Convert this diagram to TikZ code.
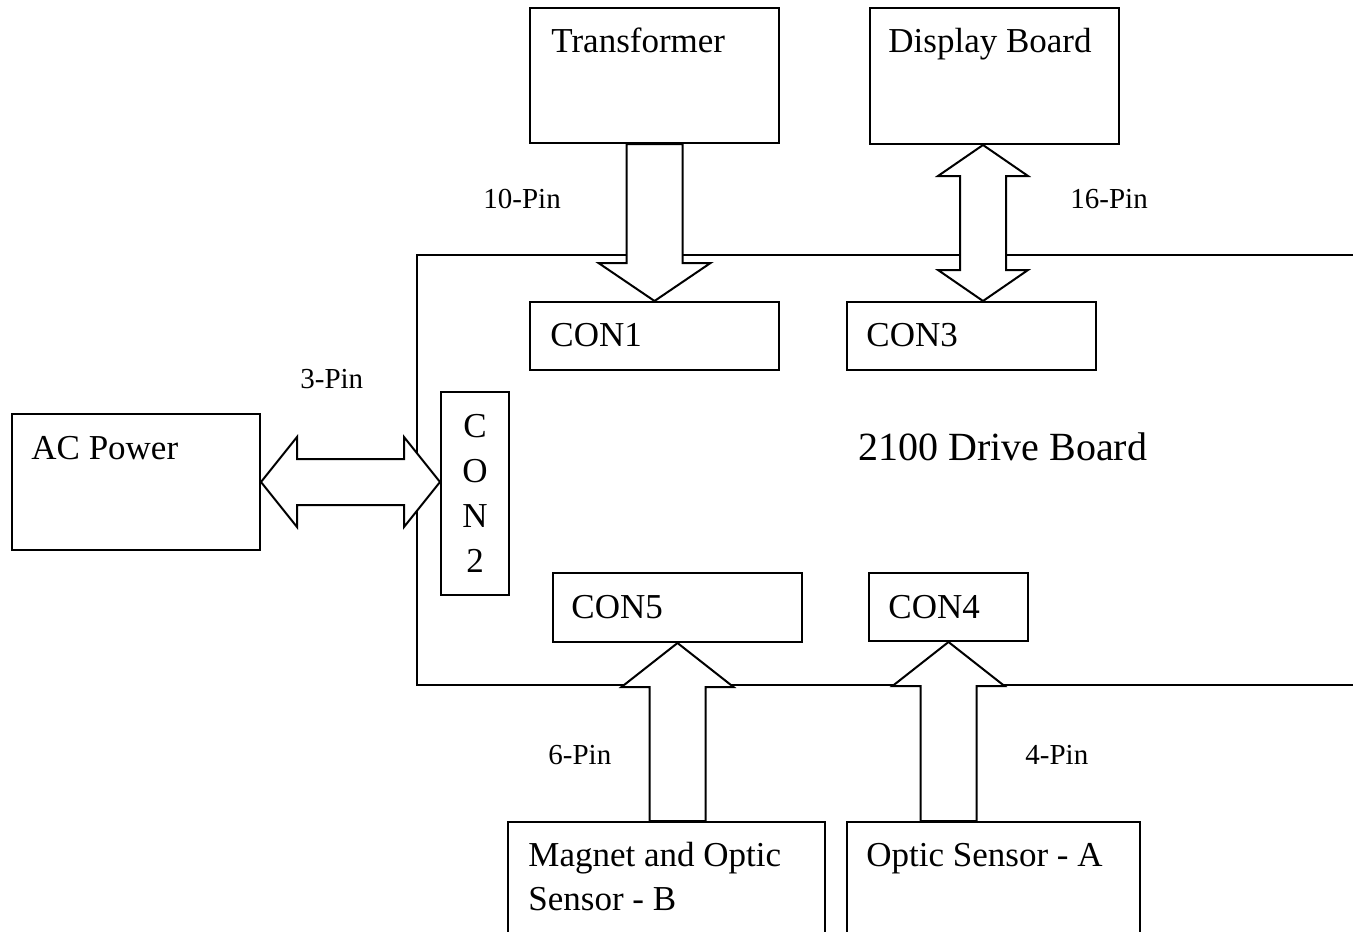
\documentclass[tikz,border=0pt]{standalone}
\usepackage{fontspec}
\setmainfont{Liberation Serif}
\usetikzlibrary{calc}

\tikzset{
  box/.style={draw, line width=1pt, anchor=north west, inner sep=0pt},
  boxtext/.style={font=\fontsize{17.5}{22.5}\selectfont, anchor=base west, inner sep=0pt},
  pintext/.style={font=\fontsize{14.5}{17}\selectfont, anchor=base west, inner sep=0pt},
  onearrow/.style n args={3}{draw, fill=white, line width=1pt,
    to path={-- ($(\tikztostart)!#1!90:(\tikztotarget)$)
      -- ($($(\tikztotarget)!#3!(\tikztostart)$)!#1!90:(\tikztotarget)$)
      -- ($($(\tikztotarget)!#3!(\tikztostart)$)!#2!90:(\tikztotarget)$)
      -- (\tikztotarget)
      -- ($($(\tikztotarget)!#3!(\tikztostart)$)!#2!-90:(\tikztotarget)$)
      -- ($($(\tikztotarget)!#3!(\tikztostart)$)!#1!-90:(\tikztotarget)$)
      -- ($(\tikztostart)!#1!-90:(\tikztotarget)$)
      -- cycle}},
  twoarrow/.style n args={3}{draw, fill=white, line width=1pt,
    to path={-- ($($(\tikztostart)!#3!(\tikztotarget)$)!#2!90:(\tikztotarget)$)
      -- ($($(\tikztostart)!#3!(\tikztotarget)$)!#1!90:(\tikztotarget)$)
      -- ($($(\tikztotarget)!#3!(\tikztostart)$)!#1!90:(\tikztotarget)$)
      -- ($($(\tikztotarget)!#3!(\tikztostart)$)!#2!90:(\tikztotarget)$)
      -- (\tikztotarget)
      -- ($($(\tikztotarget)!#3!(\tikztostart)$)!#2!-90:(\tikztotarget)$)
      -- ($($(\tikztotarget)!#3!(\tikztostart)$)!#1!-90:(\tikztotarget)$)
      -- ($($(\tikztostart)!#3!(\tikztotarget)$)!#1!-90:(\tikztotarget)$)
      -- ($($(\tikztostart)!#3!(\tikztotarget)$)!#2!-90:(\tikztotarget)$)
      -- cycle}},
}

\begin{document}
\begin{tikzpicture}[x=0.5pt, y=-0.5pt]
    \clip (0,0) rectangle (1353,931);

    % Drive board outline
    \draw[line width=1pt] (1360,255) -| (417,685) -- (1360,685);
    \node[font=\fontsize{20}{24}\selectfont, anchor=base west, inner sep=0pt] (boardtext) at (858,460) {2100 Drive Board};

    % Boxes
    \node[box, minimum width=124.5pt, minimum height=67.5pt] (trans) at (529,7) {};
    \node[box, minimum width=124.5pt, minimum height=68pt] (disp) at (869,7) {};
    \node[box, minimum width=124.5pt, minimum height=34pt] (con1) at (529,301) {};
    \node[box, minimum width=124.5pt, minimum height=34pt] (con3) at (846,301) {};
    \node[box, minimum width=34pt, minimum height=101.5pt, align=center,
          font=\fontsize{17.5}{22.5}\selectfont] (con2) at (440,391) {C\\O\\N\\2};
    \node[box, minimum width=124pt, minimum height=68pt] (acpow) at (11,413) {};
    \node[box, minimum width=124.5pt, minimum height=34.5pt] (con5) at (552,572) {};
    \node[box, minimum width=79.5pt, minimum height=34pt] (con4) at (868,572) {};
    \node[box, minimum width=158.5pt, minimum height=75pt] (magb) at (507,821) {};
    \node[box, minimum width=146.5pt, minimum height=75pt] (opta) at (846,821) {};

    % Box texts
    \node[boxtext] (transtext) at ([xshift=11pt,yshift=-23pt]trans.north west) {Transformer};
    \node[boxtext] (disptext) at ([xshift=9.5pt,yshift=-22.75pt]disp.north west) {Display Board};
    \node[boxtext] (con1text) at ([xshift=10.5pt,yshift=-22.5pt]con1.north west) {CON1};
    \node[boxtext] (con3text) at ([xshift=10pt,yshift=-22.5pt]con3.north west) {CON3};
    \node[boxtext] (acpowtext) at ([xshift=10pt,yshift=-23pt]acpow.north west) {AC Power};
    \node[boxtext] (con5text) at ([xshift=9.5pt,yshift=-23pt]con5.north west) {CON5};
    \node[boxtext] (con4text) at ([xshift=10pt,yshift=-23pt]con4.north west) {CON4};
    \node[boxtext] (magbtexta) at ([xshift=10.5pt,yshift=-22.5pt]magb.north west) {Magnet and Optic};
    \node[boxtext] (magbtextb) at ([xshift=10.5pt,yshift=-44.5pt]magb.north west) {Sensor - B};
    \node[boxtext] (optatext) at ([xshift=10pt,yshift=-22.5pt]opta.north west) {Optic Sensor - A};

    % Pin labels
    \node[pintext] (pin10) at (483,208) {10-Pin};
    \node[pintext] (pin16) at (1070,208) {16-Pin};
    \node[pintext] (pin3) at (300,388) {3-Pin};
    \node[pintext] (pin6) at (548,764) {6-Pin};
    \node[pintext] (pin4) at (1025,764) {4-Pin};

    % Connectors
    \draw[onearrow={14pt}{28pt}{19pt}] (trans.south) to (con1.north);
    \draw[twoarrow={11.5pt}{22.5pt}{15.5pt}] ([xshift=-5.75pt]disp.south) to ([xshift=5.75pt]con3.north);
    \draw[twoarrow={11.5pt}{22.5pt}{18pt}] (acpow.east) to (acpow.east -| con2.west);
    \draw[onearrow={14pt}{28pt}{22pt}] (con5.south |- magb.north) to (con5.south);
    \draw[onearrow={14pt}{28pt}{22pt}] (con4.south |- opta.north) to (con4.south);
\end{tikzpicture}
\end{document}
